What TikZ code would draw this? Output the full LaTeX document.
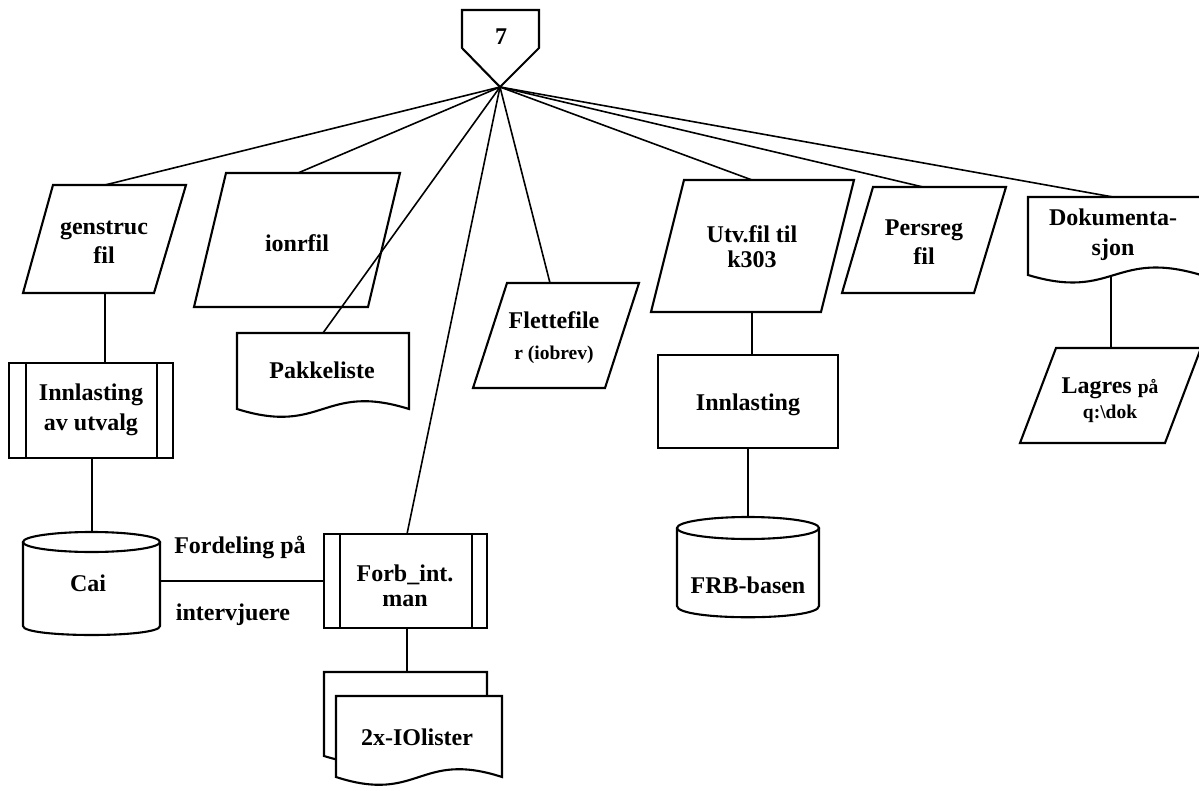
\documentclass[tikz,border=0pt]{standalone}
\usepackage{fontspec}
\setmainfont{Liberation Serif}
\tikzset{
  shapeline/.style={line width=2.1pt, line join=miter, fill=white},
  link/.style={line width=1.6pt},
  lbl/.style={font=\bfseries\fontsize{24}{29}\selectfont, align=center, inner sep=0pt}
}
\newcommand{\sm}{\fontsize{19.5}{22}\selectfont}
\begin{document}
\begin{tikzpicture}[x=1pt,y=-1pt]
\useasboundingbox (0,0) rectangle (1199,791);

% off-page connector
\draw[shapeline] (462,10) -- (539,10) -- (539,48) -- (500,87) -- (462,48) -- cycle;
\node[lbl] (seven) at (501,37) {7};
\coordinate (hub) at (500,87);

% data (parallelogram) shapes
\draw[shapeline] (53,185) -- (186,185) -- (154,293) -- (23,293) -- cycle;
\node[lbl] (gen) at (104,242) {genstruc\\fil};
\coordinate (gen-t) at (105,185); \coordinate (gen-b) at (105,293);

\draw[shapeline] (226,173) -- (400,173) -- (368,307) -- (194,307) -- cycle;
\node[lbl] (ionr) at (297,243) {ionrfil};
\coordinate (ionr-t) at (298,173);

\draw[shapeline] (507,283) -- (639,283) -- (605,388) -- (473,388) -- cycle;
\node[lbl, font=\bfseries\fontsize{24}{31}\selectfont] (flet) at (554,338) {Flettefile\\{\sm r (iobrev)}};
\coordinate (flet-t) at (550,283);

\draw[shapeline] (684,180) -- (854,180) -- (821,312) -- (651,312) -- cycle;
\node[lbl, font=\bfseries\fontsize{24}{25}\selectfont] (utv) at (752,247) {Utv.fil til\\k303};
\coordinate (utv-t) at (752,180); \coordinate (utv-b) at (752,312);

\draw[shapeline] (873,187) -- (1006,187) -- (974,293) -- (842,293) -- cycle;
\node[lbl] (pers) at (924,242) {Persreg\\fil};
\coordinate (pers-t) at (923,187);

\draw[shapeline] (1056,348) -- (1201,348) -- (1165,443) -- (1020,443) -- cycle;
\node[lbl, font=\bfseries\fontsize{24}{25}\selectfont] (lagr) at (1110,400) {Lagres {\sm på}\\{\sm q:\textbackslash dok}};
\coordinate (lagr-t) at (1111,348);

% documents
\draw[shapeline] (237,333) -- (409,333) -- (409,409) .. controls (323,382) and (323,436) .. (237,409) -- cycle;
\node[lbl] (pakk) at (322,370) {Pakkeliste};
\coordinate (pakk-t) at (323,333);

\draw[shapeline] (1028,197) -- (1201,197) -- (1201,275) .. controls (1114,249) and (1114,301) .. (1028,275) -- cycle;
\node[lbl, font=\bfseries\fontsize{24}{30}\selectfont] (dok) at (1113,235) {Dokumenta-\\sjon};
\coordinate (dok-t) at (1113,197); \coordinate (dok-b) at (1111,275);

% multi-document
\draw[shapeline] (324,672) -- (487,672) -- (487,756) .. controls (405,731) and (405,781) .. (324,756) -- cycle;
\draw[shapeline] (336,696) -- (502,696) -- (502,777) .. controls (419,750) and (419,804) .. (336,777) -- cycle;
\node[lbl] (iol) at (417,737) {2x-IOlister};
\coordinate (iol-t) at (407,672);

% predefined processes
\draw[shapeline] (9,363) rectangle (173,458);
\draw[line width=2.1pt] (26,363) -- (26,458) (157,363) -- (157,458);
\node[lbl, font=\bfseries\fontsize{24}{30}\selectfont] (innl1) at (91,410) {Innlasting\\av utvalg};
\coordinate (innl1-t) at (105,363); \coordinate (innl1-b) at (92,458);

\draw[shapeline] (324,534) rectangle (487,628);
\draw[line width=2.1pt] (340,534) -- (340,628) (472,534) -- (472,628);
\node[lbl, font=\bfseries\fontsize{24}{25}\selectfont] (forb) at (405,586) {Forb\_int.\\man};
\coordinate (forb-t) at (407,534); \coordinate (forb-b) at (407,628); \coordinate (forb-l) at (324,581);

% process
\draw[shapeline] (658,355) rectangle (838,448);
\node[lbl] (innl2) at (748,405) {Innlasting};
\coordinate (innl2-t) at (752,355); \coordinate (innl2-b) at (748,448);

% stored data (cylinders)
\draw[shapeline] (23,542) -- (23,626) .. controls (23,638) and (160,638) .. (160,626) -- (160,542);
\draw[shapeline] (91.5,542) ellipse [x radius=68.5, y radius=10];
\node[lbl] (cai) at (88,583) {Cai};
\coordinate (cai-t) at (92,532); \coordinate (cai-r) at (160,581);

\draw[shapeline] (677,528) -- (677,606) .. controls (677,621) and (819,621) .. (819,606) -- (819,528);
\draw[shapeline] (748,528) ellipse [x radius=71, y radius=11];
\node[lbl] (frb) at (748,585) {FRB-basen};
\coordinate (frb-t) at (748,517);

% labels on the Cai link
\node[lbl] (fordel) at (240,547) {Fordeling på};
\node[lbl] (interv) at (233,615) {intervjuere};

% connectors
\draw[link] (hub) -- (gen-t);
\draw[link] (hub) -- (ionr-t);
\draw[link] (hub) -- (pakk-t);
\draw[link] (hub) -- (forb-t);
\draw[link] (hub) -- (flet-t);
\draw[link] (hub) -- (utv-t);
\draw[link] (hub) -- (pers-t);
\draw[link] (hub) -- (dok-t);
\draw[link] (gen-b) -- (innl1-t);
\draw[link] (innl1-b) -- (cai-t);
\draw[link] (cai-r) -- (forb-l);
\draw[link] (forb-b) -- (iol-t);
\draw[link] (utv-b) -- (innl2-t);
\draw[link] (innl2-b) -- (frb-t);
\draw[link] (dok-b) -- (lagr-t);
\end{tikzpicture}
\end{document}
